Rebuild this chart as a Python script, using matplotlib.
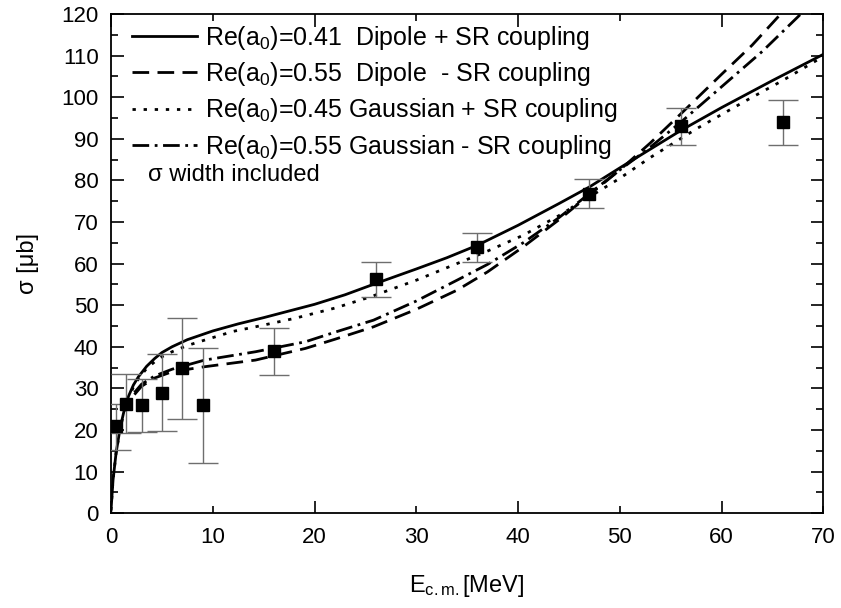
import numpy as np
import matplotlib
matplotlib.use("Agg")
import matplotlib.pyplot as plt
from matplotlib.ticker import MultipleLocator, FormatStrFormatter

plt.rcParams['font.family'] = ['Liberation Sans', 'DejaVu Sans']
plt.rcParams['mathtext.fontset'] = 'custom'
plt.rcParams['mathtext.rm'] = 'Liberation Sans'
plt.rcParams['mathtext.it'] = 'Liberation Sans:italic'

# measured cross sections
e_data = [0.5, 1.5, 3, 5, 7, 9, 16, 26, 36, 47, 56, 66]
s_data = [21, 26.3, 26, 28.9, 34.9, 26, 38.9, 56.2, 64, 76.8, 93, 94]
s_lo = [15.2, 19.3, 19.5, 19.7, 22.7, 12, 33.3, 52, 60.3, 73.3, 88.6, 88.6]
s_hi = [26.3, 33.4, 32.2, 38.2, 47, 39.7, 44.4, 60.3, 67.4, 80.4, 97.3, 99.3]

# Re(a0)=0.41 Dipole + SR coupling
e_dip_p = [0, 0.2, 0.5, 0.9, 1.3, 1.7, 2.2, 2.7, 3.5, 4.3, 5, 6, 7.5, 10, 12.5,
           15, 17.5, 20, 23, 26, 30, 33, 36, 40, 44, 47, 50, 56, 60, 65, 70]
s_dip_p = [0.7, 8, 14.5, 20.5, 24.8, 28, 30.8, 32.8, 35.3, 37.2, 38.6, 40, 41.7, 43.8, 45.5,
           47, 48.6, 50.2, 52.5, 55.2, 58.7, 61.4, 64.4, 69.2, 74.4, 78.4, 83, 92, 97.5, 104, 110.3]

# Re(a0)=0.55 Dipole - SR coupling
e_dip_m = [2.3, 3, 4.3, 6, 9.2, 14.2, 19.1, 22, 25.8, 30, 34, 37, 40.5, 44, 47,
           50, 53, 56, 60, 63, 66]
s_dip_m = [28.5, 30.5, 32.5, 34, 35.2, 36.8, 39.6, 41.8, 44.8, 49, 53.6, 58, 64, 70.5, 76.5,
           82.5, 89, 96, 105.5, 112.5, 120.5]

# Re(a0)=0.45 Gaussian + SR coupling
e_gau_p = [0, 0.2, 0.5, 0.9, 1.3, 1.7, 2.2, 2.7, 3.5, 4.3, 5, 6, 7.5, 9.2, 12, 14.2,
           18, 22, 25.5, 30, 34, 37, 40.5, 44, 47, 50, 53, 57.6, 62.5, 66, 70]
s_gau_p = [0.7, 8, 14.5, 20.3, 24.5, 27.5, 30.3, 32.3, 34.8, 36.4, 37.6, 38.8, 40.3, 41.6, 43.7, 44.8,
           46.8, 49.3, 52, 56, 60, 63, 66.8, 71.5, 76, 80.5, 85.5, 92.5, 99.3, 104, 109.8]

# Re(a0)=0.55 Gaussian - SR coupling
e_gau_m = [2.3, 3, 4.3, 6, 9.2, 14.2, 19.1, 22, 25.8, 30, 34, 37, 40.5, 44, 47,
           50, 53, 56, 60, 64, 68]
s_gau_m = [29, 31, 33, 34.6, 36.8, 38.8, 41.2, 43.5, 46.4, 51, 56, 59.8, 65, 71, 76.8,
           82.5, 88, 94, 102.5, 111, 120.5]

labels = ["Re(a$_0$)=0.41  Dipole + SR coupling",
          "Re(a$_0$)=0.55  Dipole  - SR coupling",
          "Re(a$_0$)=0.45 Gaussian + SR coupling",
          "Re(a$_0$)=0.55 Gaussian - SR coupling"]

fig = plt.figure(figsize=(8.41, 6.08), dpi=100)
ax = fig.add_axes([0.132, 0.156, 0.847, 0.821])

lw = 2.0
ax.plot(e_dip_p, s_dip_p, color='black', lw=lw, ls='-', label=labels[0])
ax.plot(e_dip_m, s_dip_m, color='black', lw=lw, ls=(0, (6, 3)), label=labels[1])
ax.plot(e_gau_p, s_gau_p, color='black', lw=lw, ls=(0, (1.2, 2.8)), label=labels[2])
ax.plot(e_gau_m, s_gau_m, color='black', lw=lw, ls=(0, (6, 2, 1, 2)), label=labels[3])

err = [np.array(s_data) - np.array(s_lo), np.array(s_hi) - np.array(s_data)]
ax.errorbar(e_data, s_data, yerr=err, fmt='none', ecolor='#6e6e6e', elinewidth=1.0,
            capsize=11, capthick=1.0, zorder=3)
ax.plot(e_data, s_data, 's', color='black', ms=8.5, zorder=4)

ax.set_xlim(0, 70)
ax.set_ylim(0, 120)

ax.xaxis.set_major_locator(MultipleLocator(20))
ax.xaxis.set_minor_locator(MultipleLocator(10))
ax.xaxis.set_minor_formatter(FormatStrFormatter('%d'))
ax.yaxis.set_major_locator(MultipleLocator(10))
ax.yaxis.set_minor_locator(MultipleLocator(5))
ax.tick_params(which='both', direction='in', top=True, right=True, labelsize=16,
               width=1.2, colors='black')
ax.tick_params(which='major', length=9)
ax.tick_params(which='minor', length=5)
ax.tick_params(axis='x', which='both', pad=10)
ax.tick_params(axis='y', which='both', pad=9)
for sp in ax.spines.values():
    sp.set_linewidth(1.3)

ax.set_xlabel("E$_{\\mathrm{c.m.}}$[MeV]", fontsize=17, labelpad=18)
ax.set_ylabel("σ [μb]", fontsize=17, labelpad=16)

ax.legend(loc='upper left', frameon=False, fontsize=18, handlelength=2.6,
          handletextpad=0.35, labelspacing=0.33, borderaxespad=0.0,
          bbox_to_anchor=(0.015, 1.0))
ax.text(0.052, 0.677, "σ width included", transform=ax.transAxes, fontsize=17,
        va='center', ha='left')

fig.savefig('out.png', dpi=100)
